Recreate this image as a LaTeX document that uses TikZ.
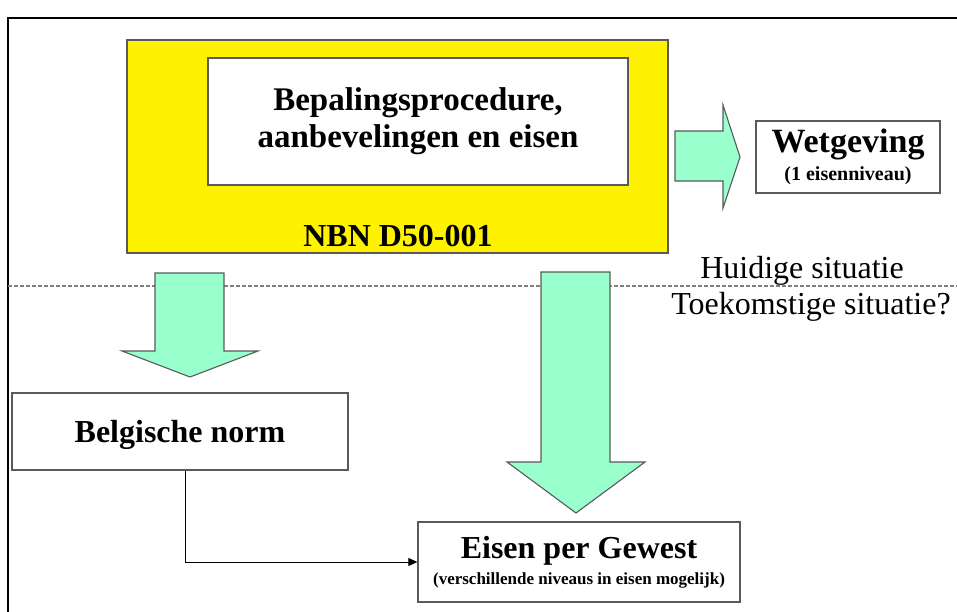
\documentclass[tikz,border=0pt]{standalone}
\usepackage{fontspec}
\setmainfont{Liberation Serif}
\usepackage{xcolor}
\usetikzlibrary{arrows.meta,positioning}

\definecolor{mint}{RGB}{153,255,204}
\definecolor{edge}{RGB}{90,90,90}

\begin{document}
\begin{tikzpicture}[
  x=1pt, y=-1pt,
  box/.style={draw=edge, line width=1.3pt, fill=white, align=center, inner sep=2pt},
  big/.style={font=\fontsize{33}{37}\selectfont\bfseries},
  blk/.style={fill=mint, draw=edge, line width=1.1pt, line join=miter},
  conn/.style={-{Triangle[length=9pt,width=8pt]}, line width=0.9pt},
  sit/.style={font=\fontsize{32}{36}\selectfont, inner sep=0pt}
]
\useasboundingbox (0,0) rectangle (957,612);

% outer frame
\draw[line width=2.4pt] (8,640) -- (8,18) -- (980,18);

% norm block with its inner box
\node[box, draw=edge, fill=yellow, minimum width=541pt, minimum height=213pt] (nbn) at (397.5,146.5) {};
\node[box, minimum width=420pt, minimum height=127pt, big] (proc) at (418,121.5)
  {Bepalingsprocedure,\\aanbevelingen en eisen};
\node[font=\fontsize{32}{34}\selectfont\bfseries] (nbnname) at (398,236) {NBN D50-001};

\node[box, minimum width=184pt, minimum height=72pt, inner sep=0pt] (wet) at (848,157)
  {{\fontsize{34}{35}\selectfont\bfseries Wetgeving}\\[6pt]{\fontsize{20}{20}\selectfont\bfseries (1 eisenniveau)}};

% present / future border
\draw[gray, line width=1.2pt, dash pattern=on 4pt off 2pt] (8,286) -- (957,286);
\node[sit] (huidig) at (802,271) {Huidige situatie};
\node[sit] (toekomst) at (811,307) {Toekomstige situatie?};

\node[box, minimum width=336pt, minimum height=77pt, text height=29pt, text depth=7pt,
  font=\fontsize{32}{36}\selectfont\bfseries] (belg) at (180,431.5) {Belgische norm};
\node[box, minimum width=322pt, minimum height=80pt, inner sep=0pt] (eisen) at (579,562)
  {{\fontsize{32}{33}\selectfont\bfseries Eisen per Gewest}\\[6pt]{\fontsize{17}{17}\selectfont\bfseries (verschillende niveaus in eisen mogelijk)}};

% block arrows
\draw[blk] (675,131) -- (723,131) -- (723,105) -- (740,157) -- (723,208) -- (723,181) -- (675,181) -- cycle;
\draw[blk] (155,273) -- (224,273) -- (224,351) -- (258,351) -- (190,377) -- (122,351) -- (155,351) -- cycle;
\draw[blk] (541,272) -- (610,272) -- (610,462) -- (645,462) -- (576,513) -- (507,462) -- (541,462) -- cycle;

\draw[conn] ([xshift=5pt]belg.south) |- (eisen.west);

\end{tikzpicture}
\end{document}
